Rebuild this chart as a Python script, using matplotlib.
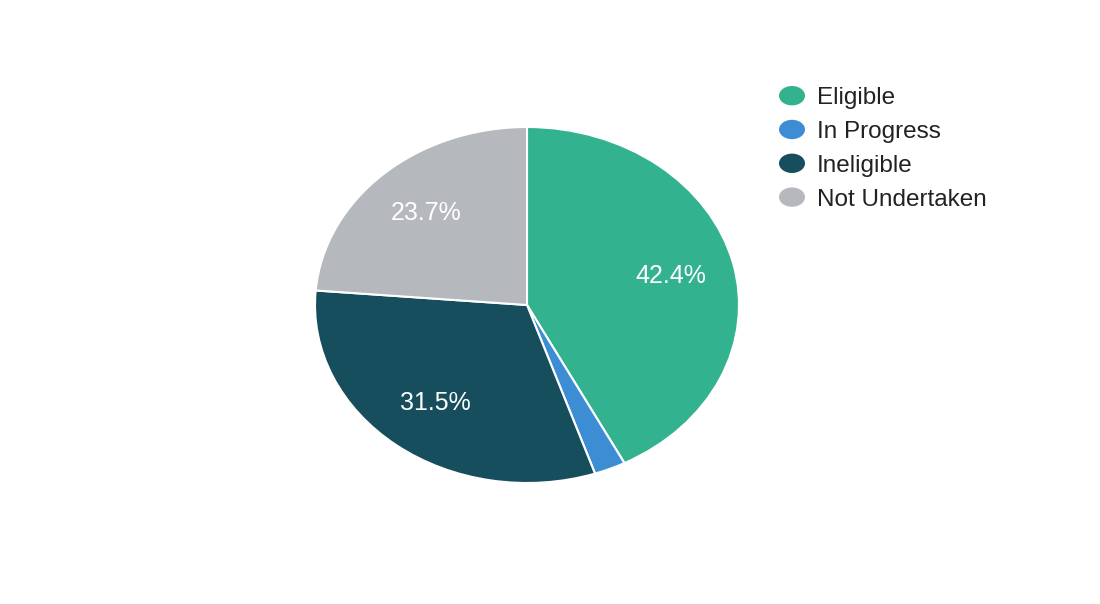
import matplotlib.pyplot as plt
from matplotlib.patches import Ellipse
from matplotlib.legend_handler import HandlerPatch

plt.rcParams['font.family'] = ['Liberation Sans', 'DejaVu Sans']

labels = ['Eligible', 'In Progress', 'Ineligible', 'Not Undertaken']
shares = [42.4, 2.4, 31.5, 23.7]
colors = ['#33b290', '#3d8dd5', '#164e5e', '#b5b9bd']


class HandlerEllipse(HandlerPatch):
    # round legend markers instead of the default boxes
    def create_artists(self, legend, orig_handle, xdescent, ydescent,
                       width, height, fontsize, trans):
        cx = 0.5 * width - xdescent
        cy = 0.5 * height - ydescent
        p = Ellipse((cx, cy), width, height)
        self.update_prop(p, orig_handle, legend)
        p.set_edgecolor('none')
        p.set_transform(trans)
        return [p]


def pct(v):
    return '%.1f%%' % v if v > 5 else ''


fig = plt.figure(figsize=(11, 6.04), dpi=100)
# axes box = pie bounding box (pie is stretched horizontally)
ax = fig.add_axes([315 / 1100, 121 / 604, 424 / 1100, 356 / 604])
wedges, texts, autotexts = ax.pie(shares, colors=colors, startangle=90,
                                  counterclock=False, autopct=pct,
                                  pctdistance=0.7,
                                  wedgeprops=dict(edgecolor='white', linewidth=1.5),
                                  textprops=dict(color='white', fontsize=18))
ax.set_aspect('auto')
ax.set_xlim(-1, 1)
ax.set_ylim(-1, 1)

leg = fig.legend(wedges, labels, loc='upper left',
                 bbox_to_anchor=(779 / 1100, 1 - 86 / 604),
                 frameon=False, fontsize=17.5,
                 handler_map={w: HandlerEllipse() for w in wedges},
                 handlelength=1.07, handleheight=0.85, handletextpad=0.49,
                 labelspacing=0.44, borderpad=0, borderaxespad=0)
for t in leg.get_texts():
    t.set_color('#222222')

fig.savefig('out.png', dpi=100)
